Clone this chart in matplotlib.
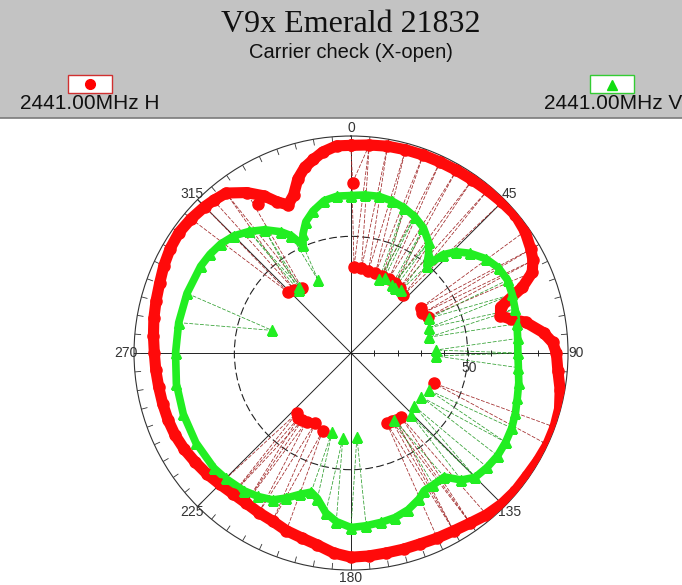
import numpy as np
import matplotlib.pyplot as plt
from matplotlib.patches import Rectangle

# 2441.00MHz H  (angle in degrees, reading)
h_ang = [0, 5, 10, 15, 20, 25, 30, 35, 40, 45, 50, 55, 60, 63, 66, 69, 73, 76, 78,
         80, 84, 87, 90, 95, 100, 105, 110, 115, 120, 125, 130, 135, 140, 145, 150,
         155, 160, 165, 170, 175, 180, 185, 190, 195, 200, 205, 210, 215, 220, 225,
         230, 235, 240, 245, 250, 255, 260, 265, 270, 275, 280, 285, 290, 295, 300,
         305, 310, 315, 318, 322, 327, 331, 334, 337, 340, 343, 346, 349, 352, 356, 360]
h_val = [89, 89.5, 90, 90.2, 90.3, 90.3, 90.4, 90.6, 91, 91.5, 92, 91, 89, 87.5, 85, 78.7, 67, 66, 70,
         76, 83, 86.5, 88, 89, 91, 92.5, 93, 93, 92.5, 92, 92, 91.5, 90.5, 89, 88,
         87.5, 87, 87, 87, 87.3, 87.5, 86, 83.5, 82, 81, 79.5, 79, 78.5, 78.7, 79.5,
         80.6, 81.5, 82.5, 83.2, 83.5, 83.6, 83.7, 84, 84.3, 85, 85.8, 86.5, 87.3, 88.5, 89.5,
         90, 89.5, 88.7, 88, 87, 82, 77, 72, 69, 72, 78, 82, 84.5, 87, 89, 89]
# H dropouts
h_drop_ang = [0.5, 2, 7, 12, 17, 22, 27, 32, 37, 42, 57, 61, 65, 110,
              142, 146, 149, 153, 200, 207, 213, 216, 219, 222, 314, 318, 323, 328]
h_drop_val = [73, 37, 36.5, 36, 35.7, 35.5, 35.8, 35.6, 35, 33.6, 35.8, 35, 36.3, 37.7,
              35, 34.5, 34, 33.6, 35.4, 33.6, 35, 35.5, 35.8, 34.5, 37.5, 36.5, 35, 75.4]

# 2441.00MHz V
v_ang = [0, 5, 10, 15, 20, 25, 30, 35, 38, 41, 43, 46, 50, 55, 60, 65, 70, 75, 80,
         85, 90, 95, 100, 105, 110, 115, 120, 125, 130, 135, 139, 143, 148, 152, 155,
         160, 165, 170, 175, 180, 185, 189, 193, 196, 200, 204, 208, 213, 218, 225,
         230, 240, 250, 260, 270, 280, 290, 300, 305, 310, 315, 320, 325, 330, 333,
         336, 338, 341, 345, 350, 355, 360]
v_val = [67.5, 68, 68.2, 67.5, 66.3, 64.5, 62, 58, 54, 49.5, 57.5, 62.5, 66.5, 70.5, 73, 74, 73.5, 72.8, 72.2,
         71.7, 71.5, 72, 73, 73.8, 75, 76, 76.5, 76.7, 76.2, 75.3, 72.1, 66.5, 66.6, 66.8, 69,
         71.5, 73, 73.7, 74.3, 74.8, 72.5, 69.3, 64, 62, 64.5, 68, 71.3, 73.3, 74.8, 76,
         76.7, 76.8, 76.5, 76, 75.2, 75, 74.8, 74.4, 73.8, 72.8, 71, 68, 64.5, 60, 56.4,
         50.5, 55, 59.5, 63, 66.3, 67.5, 67.5]
# V dropouts
v_drop_ang = [21, 24, 31, 34, 38.5, 66, 72, 78.5, 88, 92, 115.5, 122, 130, 136, 147,
              176, 185.5, 193.5, 286, 320, 322, 335.7]
v_drop_val = [34, 35.4, 34, 33.5, 34.4, 36.7, 35, 34, 36.3, 36.4, 36.9, 35.5, 35.2, 37.2, 34,
              36, 36.5, 34.7, 35.2, 35, 36, 34.2]

RED, DRED = '#ff0a0a', '#a02828'
GREEN, DGREEN = '#22ee22', '#2f9f2f'
RMAX = 93


def links(ax, ang, val, d_ang, d_val, color):
    # each bad sample hangs between its two neighbours on the trace
    ang = np.asarray(ang)
    for a, r in zip(d_ang, d_val):
        j = np.searchsorted(ang, a, side='right') - 1
        k = min(j + 1, len(ang) - 1)
        th = np.deg2rad([ang[j], a, ang[k]])
        ax.plot(th, [val[j], r, val[k]], color=color, lw=0.55, ls=(0, (5, 2)), zorder=3)


def trace(ax, ang, val, d_ang, d_val, color, marker, ms, lw):
    ax.plot(np.deg2rad(ang), val, color=color, lw=lw, solid_joinstyle='round',
            solid_capstyle='round', zorder=4)
    ax.plot(np.deg2rad(ang), val, ls='none', marker=marker, ms=ms, color=color, zorder=5)
    ax.plot(np.deg2rad(d_ang), d_val, ls='none', marker=marker, ms=ms, color=color, zorder=5)


fig = plt.figure(figsize=(6.82, 5.85), dpi=100)

# header band
hax = fig.add_axes([0, 1 - 118 / 585, 1, 118 / 585])
hax.set_xlim(0, 682)
hax.set_ylim(118, 0)
hax.set_facecolor('#c3c3c3')
hax.set_xticks([])
hax.set_yticks([])
for s in ['top', 'left', 'right']:
    hax.spines[s].set_visible(False)
hax.spines['bottom'].set_color('#7a7a7a')
hax.spines['bottom'].set_linewidth(1.2)
hax.text(351, 25, 'V9x Emerald 21832', ha='center', va='center',
         family='Liberation Serif', fontsize=23, color='#111111')
hax.text(351, 53, 'Carrier check (X-open)', ha='center', va='center',
         family='Liberation Sans', fontsize=14.5, color='#111111')
hax.add_patch(Rectangle((68, 75), 44, 18, fc='white', ec='#d03030', lw=1))
hax.plot([90], [84], marker='o', ms=7, color='#ff0000')
hax.text(20, 104, '2441.00MHz H', ha='left', va='center',
         family='Liberation Sans', fontsize=15, color='#111111')
hax.add_patch(Rectangle((590, 75), 44, 18, fc='white', ec='#33cc33', lw=1))
hax.plot([612], [85], marker='^', ms=7, color='#11dd11')
hax.text(682, 104, '2441.00MHz V', ha='right', va='center',
         family='Liberation Sans', fontsize=15, color='#111111')

# polar chart
ax = fig.add_axes([0.1965, 0.0256, 0.6364, 0.7419], projection='polar')
ax.set_theta_zero_location('N')
ax.set_theta_direction(-1)
ax.set_ylim(0, RMAX)
ax.set_thetagrids(np.arange(0, 360, 45), labels=[str(a) for a in range(0, 360, 45)],
                  fontsize=10, color='#333333', family='Liberation Sans')
ax.tick_params(axis='x', which='both', length=0, pad=-1.5)
ax.set_rgrids([50], labels=[''])
ax.xaxis.grid(True, color='#222222', lw=0.7, ls='-')
ax.yaxis.grid(True, color='#222222', lw=0.8, ls=(0, (7, 3)))
ax.spines['polar'].set_color('#333333')
ax.spines['polar'].set_linewidth(0.8)
ax.text(np.deg2rad(97), 51, '50', ha='center', va='center', fontsize=10,
        family='Liberation Sans', color='#333333')

# tick marks: every 5 degrees on the rim, every 10 on the 90 axis
for a in range(0, 360, 5):
    ax.plot(np.deg2rad([a, a]), [RMAX - 2.5, RMAX], color='#333333', lw=0.6, zorder=2)
ax.plot(np.full(9, np.pi / 2), np.arange(10, 100, 10), ls='none', marker='|',
        ms=5, mew=0.7, color='#222222', zorder=2)

links(ax, h_ang, h_val, h_drop_ang, h_drop_val, DRED)
links(ax, v_ang, v_val, v_drop_ang, v_drop_val, DGREEN)
trace(ax, h_ang, h_val, h_drop_ang, h_drop_val, RED, 'o', 8, 8)
trace(ax, v_ang, v_val, v_drop_ang, v_drop_val, GREEN, '^', 6.5, 5.5)

fig.savefig('out.png', dpi=100)
